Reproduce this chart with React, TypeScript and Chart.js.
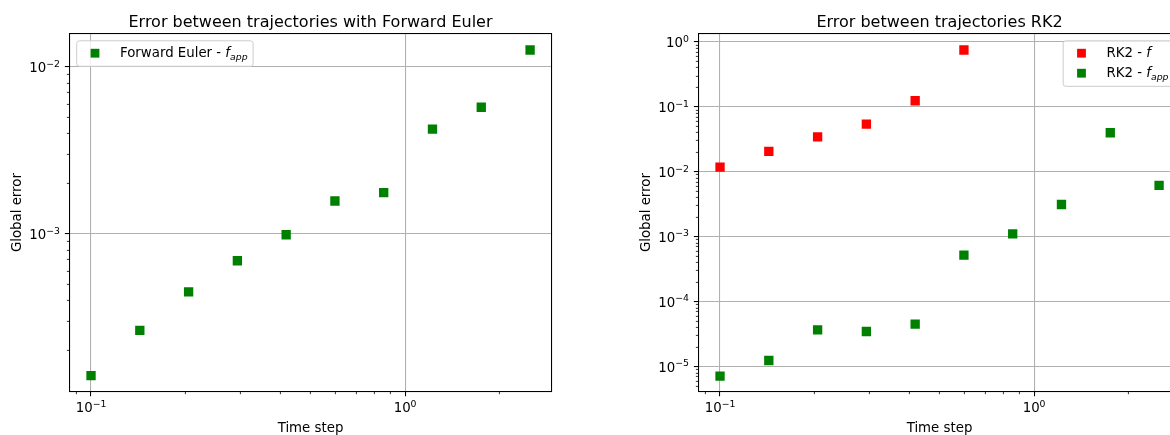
import React, { useEffect, useRef } from 'react';
import { Chart, registerables } from 'chart.js';

Chart.register(...registerables);

// ---------- data ----------
const timeSteps = [0.1, 0.143, 0.2045, 0.2924, 0.4181, 0.5978, 0.8548, 1.2223, 1.7478, 2.5];
const eulerAppError = [1.42e-4, 2.65e-4, 4.5e-4, 6.92e-4, 9.9e-4, 1.576e-3, 1.768e-3, 4.25e-3, 5.74e-3, 1.264e-2];
const rk2FSteps = [0.1, 0.143, 0.2045, 0.2924, 0.4181, 0.5978];
const rk2FError = [0.01186, 0.0207, 0.0347, 0.0545, 0.1247, 0.753];
const rk2AppError = [7.14e-6, 1.245e-5, 3.69e-5, 3.48e-5, 4.52e-5, 5.22e-4, 1.111e-3, 3.15e-3, 4.003e-2, 6.19e-3];

const leftTitle = 'Error between trajectories with Forward Euler';
const rightTitle = 'Error between trajectories RK2';
const xAxisLabel = 'Time step';
const yAxisLabel = 'Global error';

const xRange = [0.0854, 2.925];
const leftYRange = [1.137e-4, 0.01587];
const rightYRange = [4.12e-6, 1.352];

const GREEN = '#008000';
const RED = '#ff0000';
const FONT = '"DejaVu Sans", sans-serif';
const BASE = 13.33;

type Seg = { t: string; it?: boolean; sub?: boolean; sup?: boolean };

function isMajor(v: number) {
  const l = Math.log10(v);
  return Math.abs(l - Math.round(l)) < 1e-6;
}

function logTicks(min: number, max: number) {
  const out: { value: number }[] = [];
  for (let d = Math.floor(Math.log10(min)); d <= Math.ceil(Math.log10(max)); d++) {
    for (let k = 1; k <= 9; k++) {
      const v = parseFloat((k * Math.pow(10, d)).toPrecision(6));
      if (v >= min && v <= max) out.push({ value: v });
    }
  }
  return out;
}

function segFont(s: Seg, size: number) {
  const sz = s.sub || s.sup ? size * 0.7 : size;
  return `${s.it ? 'italic ' : ''}${sz}px ${FONT}`;
}

function measureRich(ctx: CanvasRenderingContext2D, segs: Seg[], size: number) {
  let w = 0;
  for (const s of segs) {
    ctx.font = segFont(s, size);
    w += ctx.measureText(s.t).width;
  }
  return w;
}

function drawRich(ctx: CanvasRenderingContext2D, segs: Seg[], x: number, y: number, size: number, align: 'left' | 'center' | 'right') {
  const w = measureRich(ctx, segs, size);
  let cx = align === 'left' ? x : align === 'center' ? x - w / 2 : x - w;
  ctx.textAlign = 'left';
  ctx.textBaseline = 'alphabetic';
  ctx.fillStyle = '#000';
  for (const s of segs) {
    ctx.font = segFont(s, size);
    const dy = s.sup ? -size * 0.4 : s.sub ? size * 0.2 : 0;
    ctx.fillText(s.t, cx, y + dy);
    cx += ctx.measureText(s.t).width;
  }
}

function expLabel(v: number): Seg[] {
  const e = Math.round(Math.log10(v));
  return [{ t: '10' }, { t: e < 0 ? '\u2212' + Math.abs(e) : String(e), sup: true }];
}

function alignPx(p: number, w: number) {
  const h = w / 2;
  return Math.round(p - h) + h;
}

type LegendRow = { color: string; segs: Seg[] };
type DecorCfg = { key: string; title: string; legendRows: LegendRow[]; legendSide: 'left' | 'right' };

function makeDecor(cfg: DecorCfg) {
  return {
    id: 'decor_' + cfg.key,
    afterDraw(chart: any) {
      const ctx: CanvasRenderingContext2D = chart.ctx;
      const { left, right, top, bottom } = chart.chartArea;
      const xs = chart.scales.x;
      const ys = chart.scales.y;
      ctx.save();
      ctx.strokeStyle = '#000';
      // spines
      ctx.lineWidth = 1.07;
      const L = alignPx(left, 1.07), R = alignPx(right, 1.07), T = alignPx(top, 1.07), B = alignPx(bottom, 1.07);
      ctx.strokeRect(L, T, R - L, B - T);
      // x ticks
      for (const t of xs.ticks) {
        const major = isMajor(t.value);
        const lw = major ? 1.07 : 0.8;
        const p = alignPx(xs.getPixelForValue(t.value), lw);
        ctx.lineWidth = lw;
        ctx.beginPath();
        ctx.moveTo(p, B);
        ctx.lineTo(p, B + (major ? 4.67 : 2.67));
        ctx.stroke();
        if (major) drawRich(ctx, expLabel(t.value), xs.getPixelForValue(t.value), bottom + 20.3, BASE, 'center');
      }
      // y ticks
      for (const t of ys.ticks) {
        const major = isMajor(t.value);
        const lw = major ? 1.07 : 0.8;
        const p = alignPx(ys.getPixelForValue(t.value), lw);
        ctx.lineWidth = lw;
        ctx.beginPath();
        ctx.moveTo(L, p);
        ctx.lineTo(L - (major ? 4.67 : 2.67), p);
        ctx.stroke();
        if (major) drawRich(ctx, expLabel(t.value), left - 9.5, ys.getPixelForValue(t.value) + 5, BASE, 'right');
      }
      // title & axis labels
      const cx = (left + right) / 2;
      ctx.fillStyle = '#000';
      ctx.textAlign = 'center';
      ctx.textBaseline = 'alphabetic';
      ctx.font = `16px ${FONT}`;
      ctx.fillText(cfg.title, cx, 26.5);
      ctx.font = `${BASE}px ${FONT}`;
      ctx.fillText(xAxisLabel, cx, 431.5);
      ctx.save();
      ctx.translate(left - 49, (top + bottom) / 2);
      ctx.rotate(-Math.PI / 2);
      ctx.fillText(yAxisLabel, 0, 0);
      ctx.restore();
      // legend
      let tw = 0;
      for (const r of cfg.legendRows) tw = Math.max(tw, measureRich(ctx, r.segs, BASE));
      const w = 43.3 + tw + 5.5;
      const h = 20 * cfg.legendRows.length + 5.5;
      const lx = cfg.legendSide === 'left' ? left + 7.2 : right - 6.5 - w;
      const ly = top + 7.3;
      ctx.beginPath();
      ctx.roundRect(lx, ly, w, h, 2.7);
      ctx.fillStyle = 'rgba(255,255,255,0.8)';
      ctx.fill();
      ctx.strokeStyle = '#cccccc';
      ctx.lineWidth = 1;
      ctx.stroke();
      cfg.legendRows.forEach((r, i) => {
        const my = ly + 12.4 + i * 20;
        ctx.fillStyle = r.color;
        ctx.fillRect(lx + 18.3 - 4.4, my - 4.4, 8.8, 8.8);
        drawRich(ctx, r.segs, lx + 43.3, ly + 16.2 + i * 20, BASE, 'left');
      });
      ctx.restore();
    },
  };
}

function scaleOpts(range: number[]) {
  return {
    type: 'logarithmic',
    min: range[0],
    max: range[1],
    afterBuildTicks: (axis: any) => {
      axis.ticks = logTicks(range[0], range[1]);
    },
    grid: {
      color: (c: any) => (c.tick && isMajor(c.tick.value) ? '#b0b0b0' : 'rgba(0,0,0,0)'),
      lineWidth: 1.07,
      drawTicks: false,
    },
    border: { display: false },
    ticks: { display: false, autoSkip: false },
  };
}

function pts(xs: number[], ys: number[]) {
  return ys.map((y, i) => ({ x: xs[i], y }));
}

function dataset(data: any[], color: string) {
  return {
    data,
    backgroundColor: color,
    borderColor: color,
    borderWidth: 0,
    pointStyle: 'rect',
    pointRadius: 6.6,
    pointHoverRadius: 6.6,
  };
}

function baseOptions(padding: any, yRange: number[]) {
  return {
    responsive: false,
    animation: false,
    devicePixelRatio: 1,
    events: [],
    layout: { padding },
    plugins: { legend: { display: false }, title: { display: false }, tooltip: { enabled: false } },
    scales: { x: scaleOpts(xRange), y: scaleOpts(yRange) },
  };
}

function ChartCanvas({ make, left, width }: { make: () => any; left: number; width: number }) {
  const ref = useRef<HTMLCanvasElement>(null);
  useEffect(() => {
    const chart = new Chart(ref.current as HTMLCanvasElement, make());
    return () => chart.destroy();
  }, []);
  return (
    <canvas
      ref={ref}
      width={width}
      height={435}
      style={{ position: 'absolute', left, top: 0, width, height: 435, display: 'block' }}
    />
  );
}

const makeLeft = () => ({
  type: 'scatter',
  data: { datasets: [dataset(pts(timeSteps, eulerAppError), GREEN)] },
  options: baseOptions({ left: 69.5, top: 33.5, right: 38.5, bottom: 43.3 }, leftYRange),
  plugins: [
    makeDecor({
      key: 'left',
      title: leftTitle,
      legendSide: 'left',
      legendRows: [{ color: GREEN, segs: [{ t: 'Forward Euler - ' }, { t: 'f', it: true }, { t: 'app', it: true, sub: true }] }],
    }),
  ],
});

const makeRight = () => ({
  type: 'scatter',
  data: {
    datasets: [dataset(pts(rk2FSteps, rk2FError), RED), dataset(pts(timeSteps, rk2AppError), GREEN)],
  },
  options: baseOptions({ left: 108.5, top: 33.5, right: 9.5, bottom: 43.3 }, rightYRange),
  plugins: [
    makeDecor({
      key: 'right',
      title: rightTitle,
      legendSide: 'right',
      legendRows: [
        { color: RED, segs: [{ t: 'RK2 - ' }, { t: 'f', it: true }] },
        { color: GREEN, segs: [{ t: 'RK2 - ' }, { t: 'f', it: true }, { t: 'app', it: true, sub: true }] },
      ],
    }),
  ],
});

export default function App() {
  return (
    <div
      style={{
        position: 'fixed',
        left: 0,
        top: 0,
        width: 1170,
        height: 435,
        overflow: 'hidden',
        background: '#fff',
      }}
    >
      <ChartCanvas make={makeLeft} left={0} width={590} />
      <ChartCanvas make={makeRight} left={590} width={600} />
    </div>
  );
}
